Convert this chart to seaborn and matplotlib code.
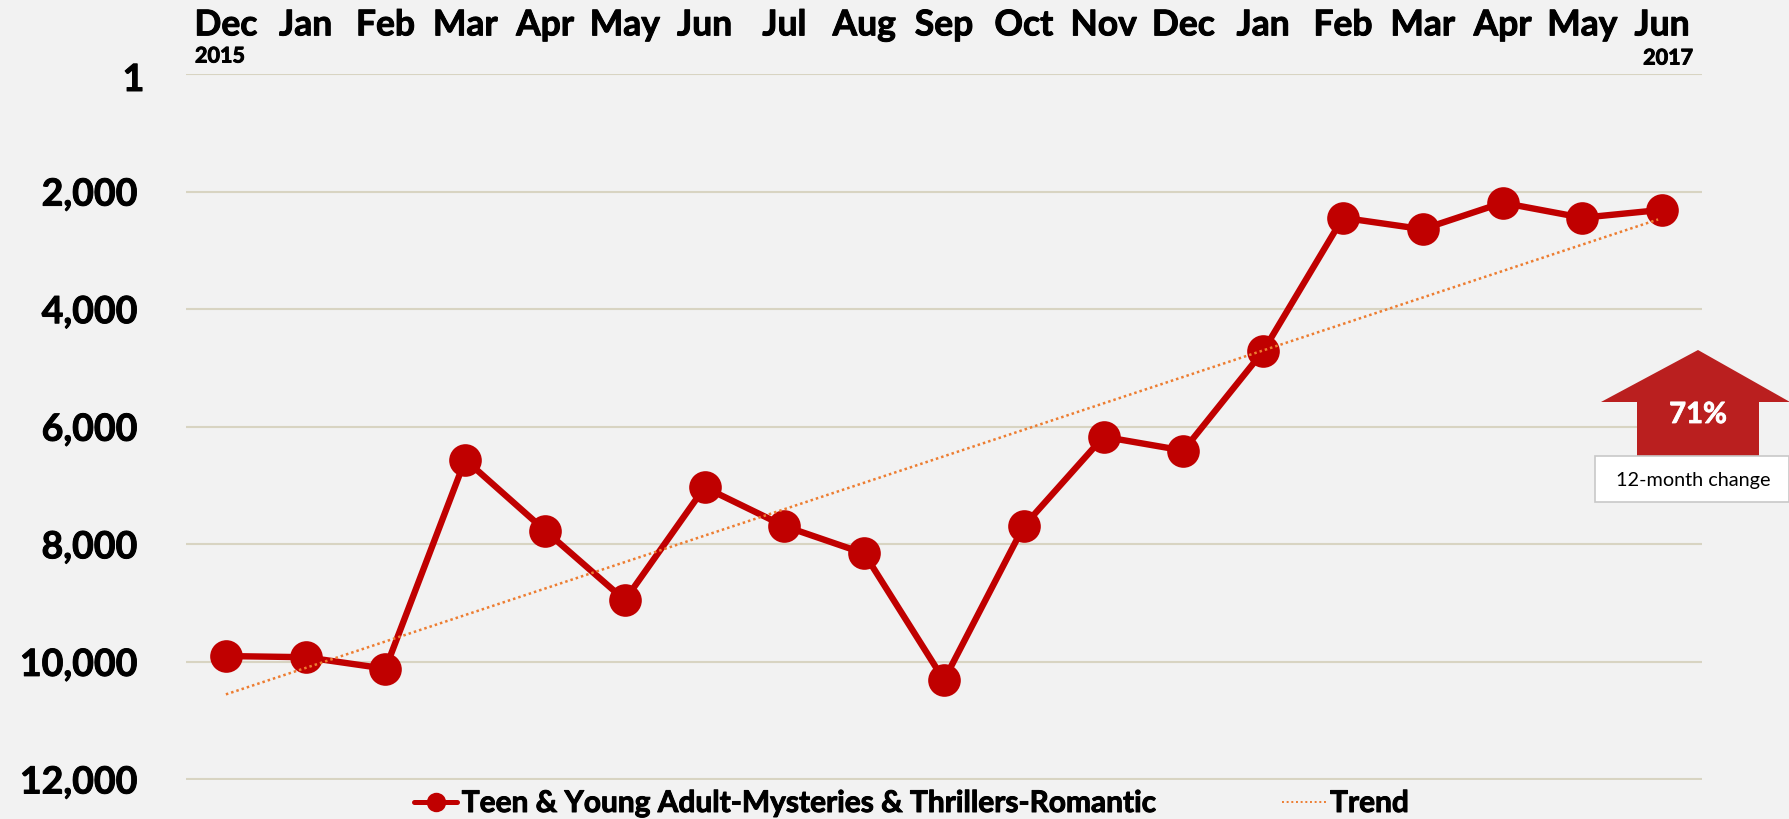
import matplotlib
matplotlib.use("Agg")
import matplotlib.pyplot as plt
from matplotlib.lines import Line2D
from matplotlib.patches import Polygon, Rectangle
from matplotlib.transforms import ScaledTranslation
import matplotlib.patheffects as pe
import pandas as pd
import seaborn as sns

months = ["Dec", "Jan", "Feb", "Mar", "Apr", "May", "Jun", "Jul", "Aug", "Sep",
          "Oct", "Nov", "Dec", "Jan", "Feb", "Mar", "Apr", "May", "Jun"]
ranks = [9900, 9920, 10115, 6560, 7765, 8950, 7030, 7690, 8155, 10310,
         7690, 6170, 6405, 4715, 2445, 2640, 2190, 2445, 2310]
trend_pos = [0, 17.95]
trend_rank = [10552, 2474]
y_ticks = [0, 2000, 4000, 6000, 8000, 10000, 12000]
y_labels = ["1", "2,000", "4,000", "6,000", "8,000", "10,000", "12,000"]
series_name = "Teen & Young Adult-Mysteries & Thrillers-Romantic"
trend_name = "Trend"

W, H = 1790, 820
BG = "#F2F2F2"
RED = "#C00000"
ORANGE = "#ED7D31"
GRID = "#D8D4C2"
sns.set_theme(style="white")
plt.rcParams["font.family"] = ["Lato", "DejaVu Sans"]

fig = plt.figure(figsize=(W / 100, H / 100), dpi=100, facecolor=BG)
L, R, T, B = 186, 1702, 75, 780.5
ax = fig.add_axes([L / W, 1 - B / H, (R - L) / W, (B - T) / H], facecolor=BG)

df = pd.DataFrame({"pos": range(len(ranks)), "rank": ranks})
tr = pd.DataFrame({"pos": trend_pos, "rank": trend_rank})
sns.lineplot(data=df, x="pos", y="rank", ax=ax, color=RED, lw=4.6, marker="o",
             markersize=23.5, markeredgewidth=0, zorder=4, clip_on=False)
sns.lineplot(data=tr, x="pos", y="rank", ax=ax, color=ORANGE, lw=1.8,
             linestyle=(0, (1, 1.2)), zorder=5)

heavy = [pe.withStroke(linewidth=0.7, foreground="black")]
ax.set_xlim(-0.5, 18.5)
ax.set_ylim(12000, 0)
ax.set_yticks(y_ticks, y_labels, fontsize=27, fontweight="bold", color="black", path_effects=heavy)
ax.set_xticks(range(len(months)), months, fontsize=25.5, fontweight="bold", color="black", path_effects=heavy)
ax.xaxis.tick_top()
ax.tick_params(axis="x", length=0, pad=23.5)
ax.tick_params(axis="y", length=0, pad=35)
ax.set_xlabel("")
ax.set_ylabel("")
ax.grid(axis="y", color=GRID, lw=1.5)
ax.grid(axis="x", visible=False)
ax.set_axisbelow(True)
for s in ax.spines.values():
    s.set_visible(False)

first = ax.get_yticklabels()[0]
first.set_transform(first.get_transform() + ScaledTranslation(7 / 100, -3 / 100, fig.dpi_scale_trans))

def fx(x): return x / W
def fy(y): return 1 - y / H

fig.text(fx(195), fy(57), "2015", fontsize=15.5, fontweight="bold", va="center", color="black", path_effects=heavy)
fig.text(fx(1693), fy(59), "2017", fontsize=15.5, fontweight="bold", va="center", ha="right", color="black", path_effects=heavy)

arrow = [(1698, 351), (1790, 403), (1759, 403), (1759, 458), (1637, 458), (1637, 403), (1601, 403)]
fig.add_artist(Polygon([(fx(x), fy(y)) for x, y in arrow], closed=True, transform=fig.transFigure,
                       facecolor="#BA1F1F", edgecolor="none", zorder=6))
fig.add_artist(Rectangle((fx(1595), fy(503)), fx(194), 46 / H, transform=fig.transFigure,
                         facecolor="white", edgecolor="#C8C8C8", lw=1.2, zorder=7))
fig.text(fx(1698), fy(416), "71%", fontsize=21, fontweight="bold", color="white",
         ha="center", va="center", zorder=8,
         path_effects=[pe.withStroke(linewidth=0.6, foreground="white")])
fig.text(fx(1693), fy(481), "12-month change", fontsize=14.3, color="black",
         ha="center", va="center", zorder=8)

handles = [
    Line2D([], [], color=RED, lw=3.6, marker="o", markersize=14, markeredgewidth=0, label=series_name),
    Line2D([], [], color=ORANGE, lw=1.4, linestyle=(0, (1, 1.4)), label=trend_name),
]
leg = fig.legend(handles=handles, loc="center", bbox_to_anchor=(fx(911.5), fy(804)), ncol=2, frameon=False,
                 prop={"size": 21.5, "weight": "bold"}, columnspacing=4.2, handlelength=1.45,
                 handletextpad=0.15, borderpad=0, labelcolor="black")
for t in leg.get_texts():
    t.set_path_effects(heavy)
fig.savefig("out.png", dpi=100, facecolor=BG)
